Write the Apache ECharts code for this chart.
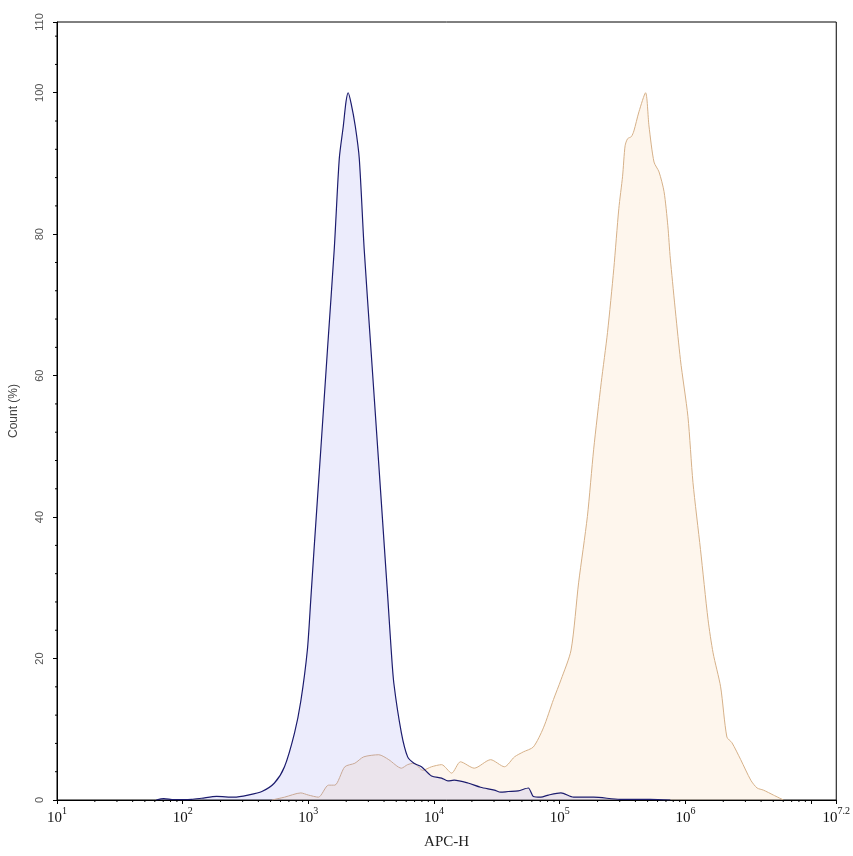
<!DOCTYPE html>
<html>
<head>
<meta charset="utf-8">
<script src="https://cdn.jsdelivr.net/npm/echarts@6/dist/echarts.min.js"></script>
<style>
  html, body { margin: 0; padding: 0; background: #fff; }
  #chart { width: 853px; height: 856px; }
</style>
</head>
<body>
<div id="chart"></div>
<script>
// x positions are decades (log10 of APC-H), y is Count (%)
var blueExp = [1.79, 1.85, 1.93, 2.07, 2.15, 2.27, 2.41, 2.52, 2.63, 2.73, 2.81, 2.89, 2.94, 2.992, 3.019, 3.045, 3.099, 3.152, 3.206, 3.246, 3.278, 3.3, 3.317, 3.34, 3.373, 3.405, 3.444, 3.498, 3.552, 3.606, 3.633, 3.659, 3.68, 3.74, 3.79, 3.84, 3.9, 3.98, 4.06, 4.11, 4.16, 4.27, 4.37, 4.48, 4.53, 4.59, 4.67, 4.75, 4.79, 4.85, 4.91, 5.01, 5.11, 5.27, 5.48, 5.72, 5.88];
var blueCount = [0, 0.2, 0.05, 0.1, 0.25, 0.5, 0.4, 0.7, 1.2, 2.4, 4.7, 9.5, 14, 21.2, 28.3, 35.4, 49.6, 63.7, 77.9, 90.7, 95.3, 98.8, 100, 98.5, 95.3, 90.7, 77.9, 63.7, 49.6, 35.4, 28.3, 21.2, 16.5, 9.5, 6.1, 5.2, 4.7, 3.4, 3.1, 2.7, 2.8, 2.4, 1.8, 1.4, 1.1, 1.2, 1.3, 1.7, 0.5, 0.4, 0.7, 1.0, 0.4, 0.4, 0.1, 0.1, 0];

var orangeExp = [2.71, 2.81, 2.94, 3.0, 3.08, 3.16, 3.21, 3.29, 3.37, 3.44, 3.56, 3.64, 3.74, 3.79, 3.84, 3.91, 3.98, 4.06, 4.14, 4.21, 4.32, 4.45, 4.56, 4.64, 4.71, 4.79, 4.87, 4.95, 5.01, 5.09, 5.15, 5.22, 5.27, 5.33, 5.38, 5.43, 5.47, 5.5, 5.52, 5.54, 5.57, 5.59, 5.63, 5.683, 5.71, 5.75, 5.79, 5.83, 5.86, 5.88, 5.96, 6.02, 6.06, 6.12, 6.18, 6.22, 6.28, 6.33, 6.37, 6.44, 6.52, 6.57, 6.62, 6.7, 6.78];
var orangeCount = [0, 0.4, 1.0, 0.7, 0.4, 2.1, 2.1, 4.7, 5.2, 6.1, 6.4, 5.7, 4.5, 5.0, 5.2, 4.2, 4.7, 5.0, 3.8, 5.4, 4.5, 5.7, 4.7, 6.1, 6.8, 7.5, 10.2, 14.2, 17, 21.2, 30.7, 40.1, 49.6, 59, 66.1, 75.1, 83.6, 88.2, 92.5, 93.5, 93.8, 94.6, 97.3, 100, 95.3, 90.2, 88.8, 86, 81.2, 76.5, 62.3, 54.2, 44.9, 35.4, 25.5, 20.8, 16, 8.9, 8.1, 5.7, 2.8, 1.7, 1.4, 0.7, 0];

var xMin = 1, xMax = 7.2;
var yMin = 0, yMax = 110;

// log minor ticks (2..9 in each decade) on x, every 4 % on y
var minorTickExp = [];
for (var d = 1; d <= 7; d++) {
  for (var k = 2; k <= 9; k++) {
    var e = d + Math.log10(k);
    if (e < xMax) minorTickExp.push(e);
  }
}
var minorTickCount = [];
for (var c = 4; c < yMax; c += 4) {
  if (c % 20 !== 0) minorTickCount.push(c);
}

function pairs(xs, ys) {
  return xs.map(function (x, i) { return [x, ys[i]]; });
}

var chart = echarts.init(document.getElementById('chart'));
chart.setOption({
  animation: false,
  grid: {
    left: 55, right: 16, top: 22, bottom: 56,
    show: true, borderColor: '#000', borderWidth: 1
  },
  xAxis: {
    type: 'value',
    min: xMin, max: xMax, interval: 1,
    name: 'APC-H',
    nameLocation: 'middle',
    nameGap: 35,
    nameTextStyle: { fontFamily: 'Liberation Serif', fontSize: 15, color: '#222' },
    axisLine: { lineStyle: { color: '#000', width: 1 } },
    axisTick: { length: 4, lineStyle: { color: '#000' } },
    splitLine: { show: false },
    axisLabel: {
      showMaxLabel: true,
      showMinLabel: true,
      margin: 6,
      formatter: function (v) {
        var r = Math.round(v * 10) / 10;
        if (r === 7) return '';
        return '{b|10}{s|' + r + '}';
      },
      rich: {
        b: { fontFamily: 'Liberation Serif', fontSize: 15, color: '#111', lineHeight: 20, verticalAlign: 'bottom' },
        s: { fontFamily: 'Liberation Serif', fontSize: 10, color: '#111', lineHeight: 12, verticalAlign: 'top' }
      }
    }
  },
  yAxis: {
    type: 'value',
    min: yMin, max: yMax, interval: 20,
    name: 'Count (%)',
    nameLocation: 'middle',
    nameGap: 37,
    nameTextStyle: { fontFamily: 'Liberation Sans', fontSize: 12, color: '#444' },
    axisLine: { show: true, lineStyle: { color: '#000', width: 1 } },
    axisTick: { show: true, length: 4, lineStyle: { color: '#000' } },
    splitLine: { show: false },
    axisLabel: {
      rotate: 90,
      margin: 12,
      showMaxLabel: true,
      fontFamily: 'Liberation Sans', fontSize: 11, color: '#555'
    }
  },
  series: [
    {
      name: 'stained',
      type: 'line',
      data: pairs(orangeExp, orangeCount),
      symbol: 'none',
      smooth: 0.25,
      lineStyle: { color: '#d6b189', width: 1 },
      areaStyle: { color: 'rgba(250,218,182,0.36)' },
      z: 2
    },
    {
      name: 'control',
      type: 'line',
      data: pairs(blueExp, blueCount),
      symbol: 'none',
      smooth: 0.25,
      lineStyle: { color: '#1c1c6e', width: 1.2 },
      areaStyle: { color: 'rgba(120,120,232,0.2)' },
      z: 3
    },
    {
      name: 'xMinorTicks',
      type: 'custom',
      silent: true,
      clip: false,
      z: 5,
      data: minorTickExp.map(function (e) { return [e, yMin]; }),
      renderItem: function (params, api) {
        var p = api.coord([api.value(0), api.value(1)]);
        return {
          type: 'line',
          shape: { x1: p[0], y1: p[1], x2: p[0], y2: p[1] + 2 },
          style: { stroke: '#000', lineWidth: 1 }
        };
      }
    },
    {
      name: 'yMinorTicks',
      type: 'custom',
      silent: true,
      clip: false,
      z: 5,
      data: minorTickCount.map(function (v) { return [xMin, v]; }),
      renderItem: function (params, api) {
        var p = api.coord([api.value(0), api.value(1)]);
        return {
          type: 'line',
          shape: { x1: p[0] - 2, y1: p[1], x2: p[0], y2: p[1] },
          style: { stroke: '#000', lineWidth: 1 }
        };
      }
    }
  ]
});
</script>
</body>
</html>
